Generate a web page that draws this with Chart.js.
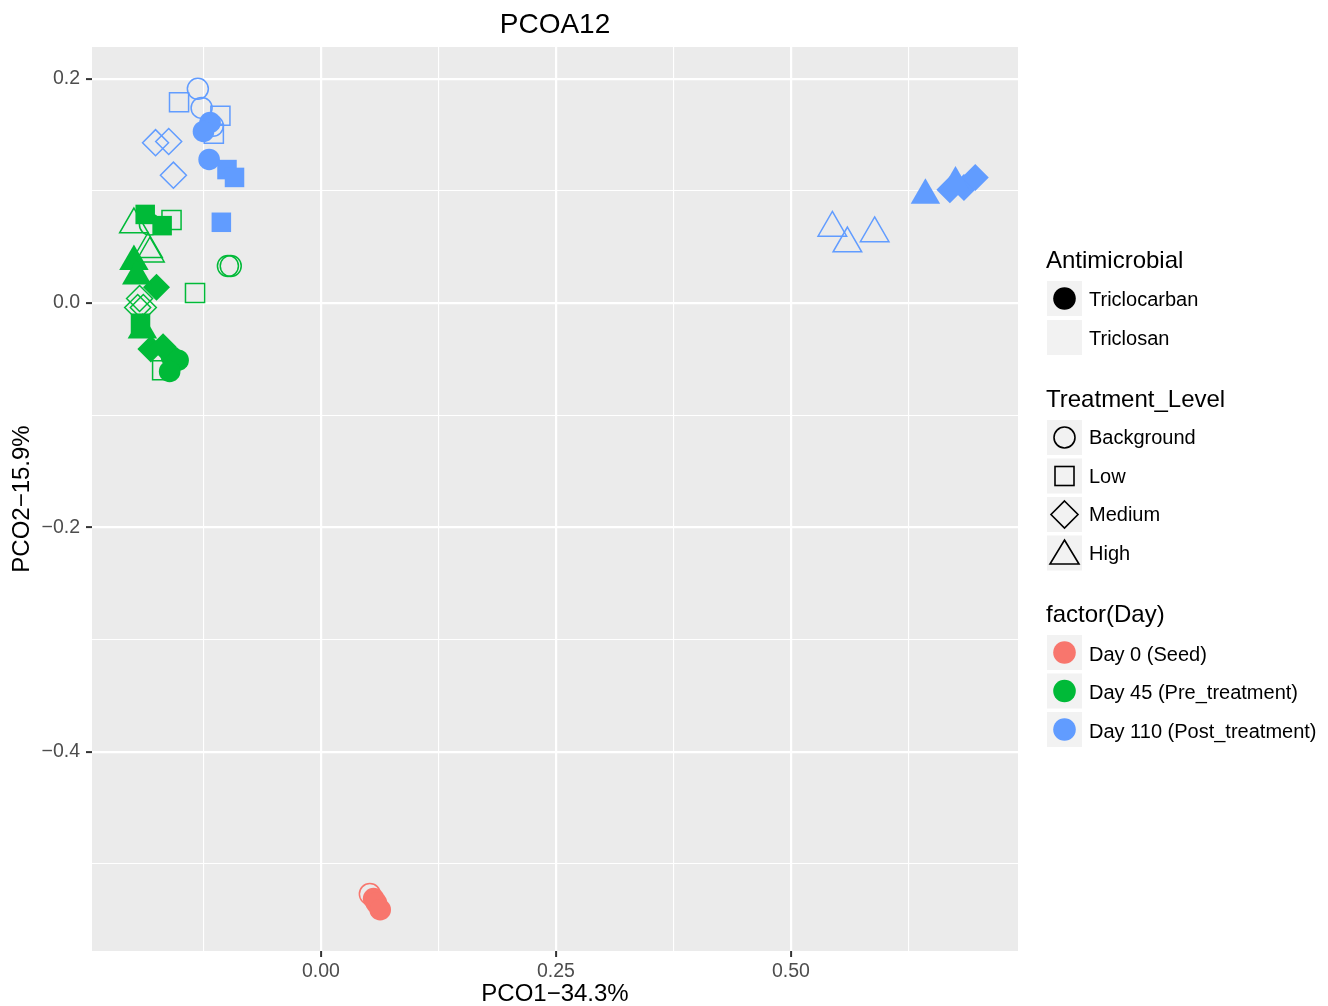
<!DOCTYPE html>
<html lang="en">
<head>
    <meta charset="UTF-8">
    <title>PCOA12</title>
    <style>
        body {
            margin: 0;
            background-color: #fff;
            font-family: "Liberation Sans", Arial, sans-serif;
        }

        #wrap {
            position: relative;
            width: 1328px;
            height: 1006px;
        }

        #chart, #legend {
            position: absolute;
            left: 0;
            top: 0;
        }

        #legend {
            pointer-events: none;
        }
    </style>
</head>
<body>
    <div id="wrap">
        <canvas id="chart" width="1328" height="1006"></canvas>
        <svg id="legend" width="1328" height="1006" xmlns="http://www.w3.org/2000/svg"></svg>
    </div>

    <script src="https://cdn.jsdelivr.net/npm/chart.js"></script>

    <script>
        // categories
        const dayLabels = ['Day 0 (Seed)', 'Day 45 (Pre_treatment)', 'Day 110 (Post_treatment)'];
        const agentLabels = ['Triclocarban', 'Triclosan'];
        const levelLabels = ['Background', 'Low', 'Medium', 'High'];

        // tick values (minor + major) and labelled majors
        const xTicks = [-0.125, 0, 0.125, 0.25, 0.375, 0.5, 0.625];
        const xMajor = [0, 0.25, 0.5];
        const xMajorLabels = ['0.00', '0.25', '0.50'];
        const yTicks = [-0.5, -0.4, -0.3, -0.2, -0.1, 0, 0.1, 0.2];
        const yMajor = [-0.4, -0.2, 0, 0.2];
        const yMajorLabels = ['\u22120.4', '\u22120.2', '0.0', '0.2'];

        // samples: PCO1, PCO2, day index, antimicrobial index, treatment level index
        const pcoX = [
            -0.131, -0.127, -0.115, -0.151, -0.107, -0.114, -0.176, -0.162, -0.157, 0.544, 0.560, 0.589,
            -0.118, -0.125, -0.119, -0.100, -0.092, -0.106, 0.669, 0.684, 0.696, 0.643, 0.675,
            -0.182, -0.096, -0.099, -0.159, -0.134, -0.169, -0.193, -0.195, -0.189, -0.199, -0.184, -0.182,
            -0.159, -0.152, -0.161, -0.187, -0.169, -0.192, -0.175, -0.181, -0.168, -0.199, -0.196, -0.190,
            0.052, 0.056, 0.059, 0.063
        ];
        const pcoY = [
            0.191, 0.174, 0.158, 0.179, 0.167, 0.151, 0.143, 0.144, 0.114, 0.067, 0.053, 0.062,
            0.161, 0.153, 0.128, 0.119, 0.112, 0.072, 0.101, 0.103, 0.112, 0.096, 0.107,
            0.070, 0.033, 0.033, 0.074, 0.009, -0.060, 0.004, -0.004, -0.004, 0.070, 0.048, 0.044,
            -0.048, -0.051, -0.061, 0.079, 0.069, -0.018, 0.014, -0.041, -0.039, 0.037, 0.024, -0.024,
            -0.527, -0.531, -0.535, -0.541
        ];
        const dayIdx = [
            2, 2, 2, 2, 2, 2, 2, 2, 2, 2, 2, 2,
            2, 2, 2, 2, 2, 2, 2, 2, 2, 2, 2,
            1, 1, 1, 1, 1, 1, 1, 1, 1, 1, 1, 1,
            1, 1, 1, 1, 1, 1, 1, 1, 1, 1, 1, 1,
            0, 0, 0, 0
        ];
        const agentIdx = [
            1, 1, 1, 1, 1, 1, 1, 1, 1, 1, 1, 1,
            0, 0, 0, 0, 0, 0, 0, 0, 0, 0, 0,
            1, 1, 1, 1, 1, 1, 1, 1, 1, 1, 1, 1,
            0, 0, 0, 0, 0, 0, 0, 0, 0, 0, 0, 0,
            1, 0, 0, 0
        ];
        const levelIdx = [
            0, 0, 0, 1, 1, 1, 2, 2, 2, 3, 3, 3,
            0, 0, 0, 1, 1, 1, 2, 2, 2, 3, 3,
            0, 0, 0, 1, 1, 1, 2, 2, 2, 3, 3, 3,
            0, 0, 0, 1, 1, 1, 2, 2, 2, 3, 3, 3,
            0, 0, 0, 0
        ];

        // styles
        const fontFamily = '"Liberation Sans", Arial, sans-serif';
        const dayColors = ['#F8766D', '#00BA38', '#619CFF'];
        const shapeStyles = ['circle', 'rect', 'rectRot', 'triangle'];
        const openRadius = [10.5, 13.5, 13, 16.5];
        const filledRadius = [10.8, 13.8, 13.5, 17];

        function isIn(v, list) {
            return list.some(m => Math.abs(m - v) < 1e-9);
        }

        function majorLabel(v, list, labels) {
            const i = list.findIndex(m => Math.abs(m - v) < 1e-9);
            return i >= 0 ? labels[i] : '';
        }

        function buildDataset(agent) {
            const pts = [], styles = [], radii = [], fills = [], borders = [];
            pcoX.forEach((x, i) => {
                if (agentIdx[i] !== agent) return;
                pts.push({ x: x, y: pcoY[i] });
                styles.push(shapeStyles[levelIdx[i]]);
                const color = dayColors[dayIdx[i]];
                borders.push(color);
                if (agent === 0) {
                    radii.push(filledRadius[levelIdx[i]]);
                    fills.push(color);
                } else {
                    radii.push(openRadius[levelIdx[i]]);
                    fills.push('rgba(0,0,0,0)');
                }
            });
            return {
                label: agentLabels[agent],
                data: pts,
                pointStyle: styles,
                pointRadius: radii,
                pointHoverRadius: radii,
                pointBackgroundColor: fills,
                pointBorderColor: borders,
                pointBorderWidth: agent === 0 ? 0 : 1.5
            };
        }

        const panelAndTitle = {
            id: 'panelAndTitle',
            beforeDraw(chart) {
                const a = chart.chartArea;
                const ctx = chart.ctx;
                ctx.save();
                ctx.fillStyle = '#EBEBEB';
                ctx.fillRect(a.left, a.top, a.right - a.left, a.bottom - a.top);
                ctx.restore();
            },
            afterDraw(chart) {
                const a = chart.chartArea;
                const ctx = chart.ctx;
                ctx.save();
                ctx.fillStyle = '#000';
                ctx.font = '28px ' + fontFamily;
                ctx.textAlign = 'center';
                ctx.textBaseline = 'alphabetic';
                ctx.fillText('PCOA12', (a.left + a.right) / 2, 33);
                ctx.restore();
            }
        };

        function gridOptions(major) {
            return {
                color: '#FFFFFF',
                lineWidth: c => (c.tick && isIn(c.tick.value, major)) ? 2.2 : 1.1,
                drawTicks: true,
                tickLength: 6,
                tickWidth: 2,
                tickColor: c => (c.tick && isIn(c.tick.value, major)) ? '#333333' : 'rgba(0,0,0,0)'
            };
        }

        // Filled markers first so they are drawn on top of the open ones
        new Chart(document.getElementById('chart'), {
            type: 'scatter',
            data: { datasets: [buildDataset(0), buildDataset(1)] },
            options: {
                responsive: false,
                animation: false,
                events: [],
                layout: { padding: { top: 47, right: 310, bottom: 0, left: 0 } },
                plugins: {
                    legend: { display: false },
                    tooltip: { enabled: false }
                },
                scales: {
                    x: {
                        type: 'linear',
                        min: -0.2436,
                        max: 0.7415,
                        afterFit: s => { s.height = 55; },
                        afterBuildTicks: s => { s.ticks = xTicks.map(v => ({ value: v })); },
                        grid: gridOptions(xMajor),
                        border: { display: false },
                        ticks: {
                            autoSkip: false,
                            maxRotation: 0,
                            padding: 3,
                            color: '#4D4D4D',
                            font: { size: 19.5, family: fontFamily },
                            callback: v => majorLabel(v, xMajor, xMajorLabels)
                        },
                        title: {
                            display: true,
                            text: 'PCO1\u221234.3%',
                            color: '#000',
                            font: { size: 24, family: fontFamily },
                            padding: { top: 0, bottom: -3 }
                        }
                    },
                    y: {
                        type: 'linear',
                        min: -0.5778,
                        max: 0.2283,
                        afterFit: s => { s.width = 92; },
                        afterBuildTicks: s => { s.ticks = yTicks.map(v => ({ value: v })); },
                        grid: gridOptions(yMajor),
                        border: { display: false },
                        ticks: {
                            autoSkip: false,
                            padding: 6,
                            color: '#4D4D4D',
                            font: { size: 19.5, family: fontFamily },
                            callback: v => majorLabel(v, yMajor, yMajorLabels)
                        },
                        title: {
                            display: true,
                            text: 'PCO2\u221215.9%',
                            color: '#000',
                            font: { size: 24, family: fontFamily },
                            padding: { top: 8, bottom: 0 }
                        }
                    }
                }
            },
            plugins: [panelAndTitle]
        });

        // ---- legend (svg overlay) ----
        const svg = document.getElementById('legend');
        const NS = 'http://www.w3.org/2000/svg';

        function el(tag, attrs) {
            const e = document.createElementNS(NS, tag);
            for (const k in attrs) e.setAttribute(k, attrs[k]);
            svg.appendChild(e);
            return e;
        }

        function text(str, x, y, size) {
            const t = el('text', { x: x, y: y, 'font-size': size, 'font-family': fontFamily, fill: '#000' });
            t.textContent = str;
        }

        function keyBox(top) {
            el('rect', { x: 1047, y: top, width: 35, height: 35, fill: '#F2F2F2' });
        }

        function shape(kind, cx, cy, fill, stroke) {
            const common = { fill: fill, stroke: stroke, 'stroke-width': 1.6 };
            if (kind === 0) {
                el('circle', Object.assign({ cx: cx, cy: cy, r: 10.5 }, common));
            } else if (kind === 1) {
                el('rect', Object.assign({ x: cx - 9.5, y: cy - 9.5, width: 19, height: 19 }, common));
            } else if (kind === 2) {
                const r = 13.5;
                el('polygon', Object.assign({ points: `${cx},${cy - r} ${cx + r},${cy} ${cx},${cy + r} ${cx - r},${cy}` }, common));
            } else {
                el('polygon', Object.assign({ points: `${cx},${cy - 13} ${cx + 14.5},${cy + 11} ${cx - 14.5},${cy + 11}` }, common));
            }
        }

        const keyCx = 1064.5;

        text('Antimicrobial', 1046, 268, 24);
        const agentTops = [281, 320];
        agentLabels.forEach((lab, i) => {
            keyBox(agentTops[i]);
            if (i === 0) el('circle', { cx: keyCx, cy: agentTops[i] + 17.5, r: 11.3, fill: '#000' });
            text(lab, 1089, agentTops[i] + 25, 20);
        });

        text('Treatment_Level', 1046, 407, 24);
        const levelTops = [420, 458.5, 497, 535.5];
        levelLabels.forEach((lab, i) => {
            keyBox(levelTops[i]);
            shape(i, keyCx, levelTops[i] + 17.5, 'none', '#000');
            text(lab, 1089, levelTops[i] + 24, 20);
        });

        text('factor(Day)', 1046, 622, 24);
        const dayTops = [635, 673.5, 712];
        dayLabels.forEach((lab, i) => {
            keyBox(dayTops[i]);
            el('circle', { cx: keyCx, cy: dayTops[i] + 17.5, r: 11.3, fill: dayColors[i] });
            text(lab, 1089, dayTops[i] + 25.5, 20);
        });
    </script>
</body>
</html>
